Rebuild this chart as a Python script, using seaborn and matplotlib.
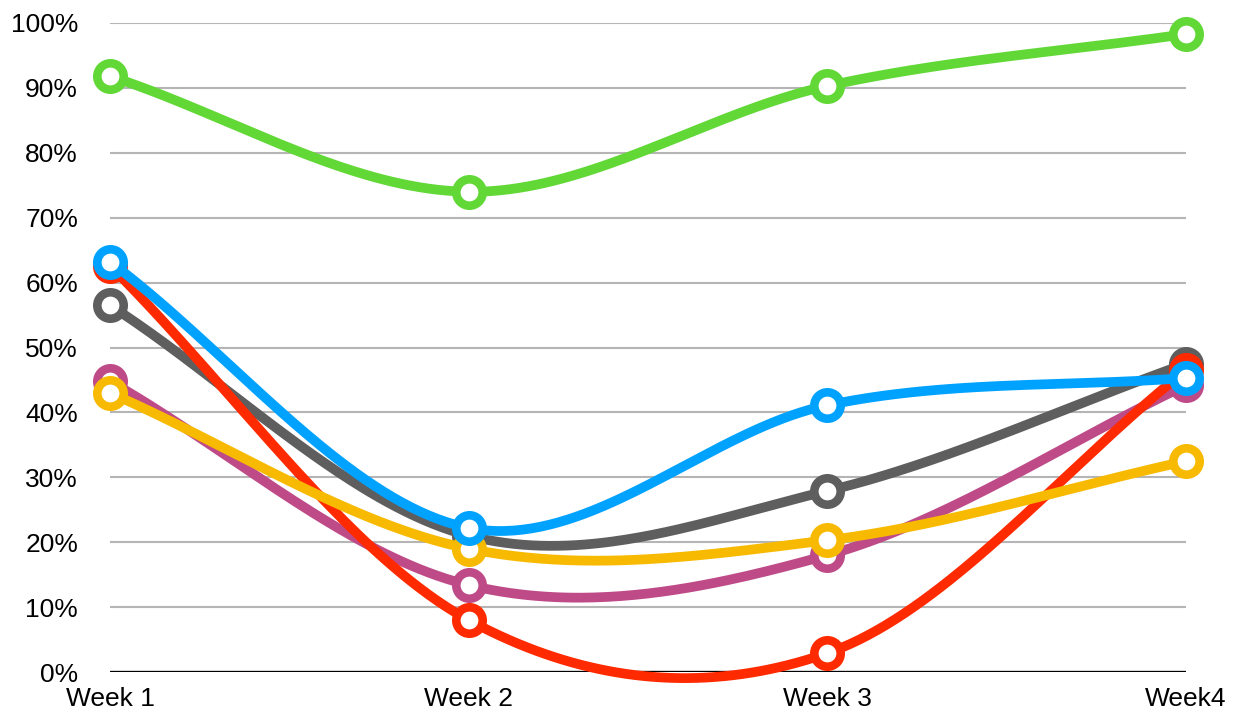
import numpy as np
import pandas as pd
import matplotlib
matplotlib.use("Agg")
import matplotlib.pyplot as plt
import seaborn as sns

weeks = ["Week 1", "Week 2", "Week 3", "Week4"]
gray_vals = [56.5, 21.0, 27.9, 47.5]
pink_vals = [44.8, 13.4, 18.0, 44.2]
red_vals = [62.6, 8.0, 2.9, 46.5]
yellow_vals = [43.0, 19.0, 20.3, 32.5]
green_vals = [91.8, 74.0, 90.3, 98.3]
blue_vals = [63.2, 22.2, 41.1, 45.3]
y_ticks = [0, 10, 20, 30, 40, 50, 60, 70, 80, 90, 100]

series = [
    ("gray", gray_vals, "#5E5E5E"),
    ("pink", pink_vals, "#BE4A87"),
    ("red", red_vals, "#FF2A00"),
    ("yellow", yellow_vals, "#F8BA00"),
    ("green", green_vals, "#61D836"),
    ("blue", blue_vals, "#00A2FF"),
]


def catmull_rom(vals, n=80):
    v = np.asarray(vals, dtype=float)
    k = len(v)
    m = np.zeros(k)
    m[0] = v[1] - v[0]
    m[-1] = v[-1] - v[-2]
    for i in range(1, k - 1):
        m[i] = (v[i + 1] - v[i - 1]) / 2
    xs, ys = [], []
    for i in range(k - 1):
        t = np.linspace(0, 1, n, endpoint=(i == k - 2))
        h00 = 2 * t**3 - 3 * t**2 + 1
        h10 = t**3 - 2 * t**2 + t
        h01 = -2 * t**3 + 3 * t**2
        h11 = t**3 - t**2
        ys.append(h00 * v[i] + h10 * m[i] + h01 * v[i + 1] + h11 * m[i + 1])
        xs.append(i + t)
    return np.concatenate(xs), np.concatenate(ys)


sns.set_style("white")
plt.rcParams["font.family"] = ["Liberation Sans", "DejaVu Sans"]

fig = plt.figure(figsize=(12.34, 7.10), dpi=100)
ax = fig.add_axes([110 / 1234, 38 / 710, 1076 / 1234, 649 / 710])

for yt in y_ticks[1:]:
    ax.axhline(yt, color="#B5B5B5", lw=1.5, zorder=0)
ax.axhline(0, color="black", lw=2.4, zorder=0.5)

for z, (name, vals, col) in enumerate(series):
    xs, ys = catmull_rom(vals)
    df = pd.DataFrame({"x": xs, "y": ys})
    sns.lineplot(data=df, x="x", y="y", ax=ax, color=col, lw=7,
                 solid_capstyle="round", zorder=2 + z * 2, clip_on=False,
                 estimator=None, sort=False)
    ax.plot(range(len(vals)), vals, linestyle="none", marker="o",
            markersize=19, markeredgewidth=6.2, markerfacecolor="white",
            markeredgecolor=col, zorder=3 + z * 2, clip_on=False)

ax.set_xlim(0, 3)
ax.set_ylim(0, 100)
ax.set_xticks(range(4))
ax.set_xticklabels(weeks, fontsize=19, color="black")
ax.set_yticks(y_ticks)
ax.set_yticklabels([f"{v}%" for v in y_ticks], fontsize=19, color="black")
ax.tick_params(axis="y", length=0, pad=23)
ax.tick_params(axis="x", length=0, pad=11)
ax.set_xlabel("")
ax.set_ylabel("")
for s in ax.spines.values():
    s.set_visible(False)

fig.savefig("out.png", dpi=100)
